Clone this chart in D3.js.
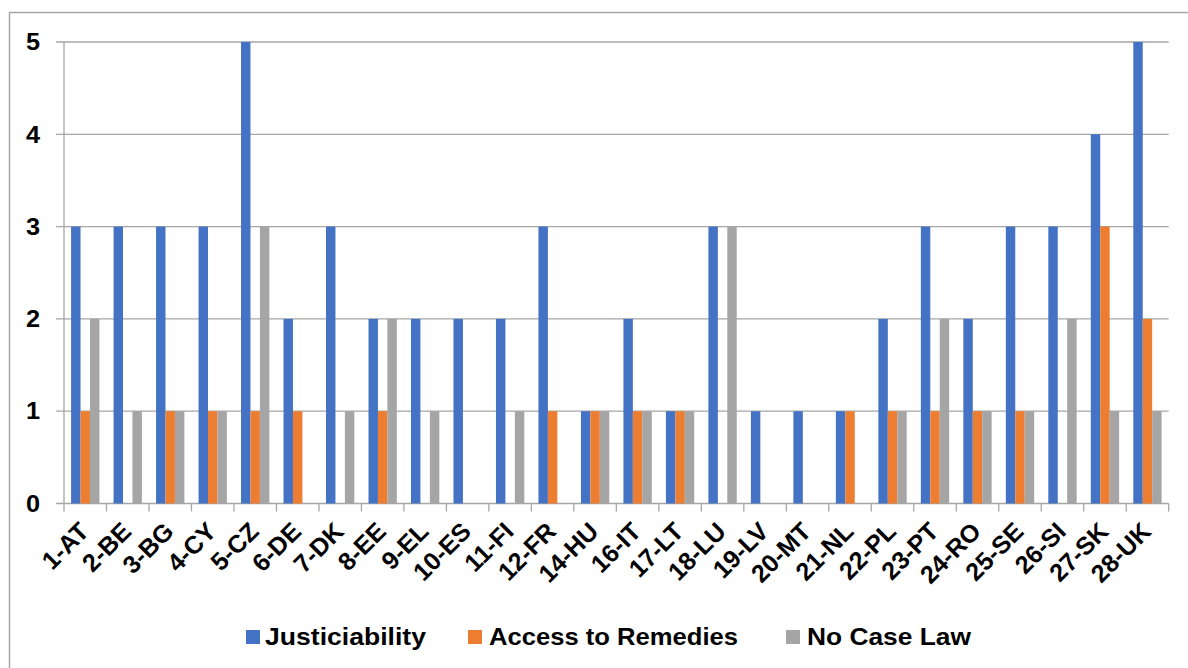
<!DOCTYPE html>
<html>
<head>
<meta charset="utf-8">
<script src="https://cdn.jsdelivr.net/npm/d3@7"></script>
<style>
  html, body { margin: 0; padding: 0; background: #fff; }
  svg { display: block; }
  text { font-family: "Liberation Sans", Arial, sans-serif; font-weight: bold; fill: #000; }
</style>
</head>
<body>
<svg id="chart" width="1188" height="668"></svg>
<script>
// Member states (x categories)
const categories = ["1-AT","2-BE","3-BG","4-CY","5-CZ","6-DE","7-DK","8-EE","9-EL","10-ES","11-FI","12-FR","14-HU","16-IT","17-LT","18-LU","19-LV","20-MT","21-NL","22-PL","23-PT","24-RO","25-SE","26-SI","27-SK","28-UK"];

// Series
const seriesNames = ["Justiciability", "Access to Remedies", "No Case Law"];
const justiciability = [3,3,3,3,5,2,3,2,2,2,2,3,1,2,1,3,1,1,1,2,3,2,3,3,4,5];
const accessToRemedies = [1,0,1,1,1,1,0,1,0,0,0,1,1,1,1,0,0,0,1,1,1,1,1,0,3,2];
const noCaseLaw = [2,1,1,1,3,0,1,2,1,0,1,0,1,1,1,3,0,0,0,1,2,1,1,2,1,1];
const seriesValues = [justiciability, accessToRemedies, noCaseLaw];
const seriesColors = ["#4472C4", "#ED7D31", "#A5A5A5"];

// Axis ticks
const yTicks = [0, 1, 2, 3, 4, 5];

const svg = d3.select("#chart");
const gridColor = "#a6a6a6";

// Outer chart frame (runs off the right and bottom edges)
svg.append("rect")
  .attr("x", 9.5).attr("y", 12.5)
  .attr("width", 1200).attr("height", 700)
  .attr("fill", "#fff")
  .attr("stroke", gridColor).attr("stroke-width", 1.5);

const plot = { left: 64, right: 1168.7, top: 42, bottom: 503.5 };

const x = d3.scaleBand().domain(categories).range([plot.left, plot.right]).paddingInner(0).paddingOuter(0);
const xs = d3.scaleBand().domain(seriesNames).range([0, x.bandwidth()]).paddingInner(0).paddingOuter(0.75);
const y = d3.scaleLinear().domain([0, 5]).range([plot.bottom, plot.top]);

// Horizontal gridlines with left tick stubs
svg.append("g").selectAll("line")
  .data(yTicks)
  .join("line")
  .attr("x1", plot.left - 8).attr("x2", plot.right)
  .attr("y1", d => y(d)).attr("y2", d => y(d))
  .attr("stroke", gridColor).attr("stroke-width", 1.3);

// Vertical axis line
svg.append("line")
  .attr("x1", plot.left).attr("x2", plot.left)
  .attr("y1", plot.top).attr("y2", plot.bottom)
  .attr("stroke", gridColor).attr("stroke-width", 1.3);

// Category boundary tick marks below the axis
const boundaries = categories.map(c => x(c)).concat([plot.right]);
svg.append("g").selectAll("line")
  .data(boundaries)
  .join("line")
  .attr("x1", d => d).attr("x2", d => d)
  .attr("y1", plot.bottom).attr("y2", plot.bottom + 8)
  .attr("stroke", gridColor).attr("stroke-width", 1.3);

// Bars
const rows = categories.map((c, i) => ({ cat: c, vals: seriesNames.map((s, j) => ({ s, j, v: seriesValues[j][i] })) }));
svg.append("g").selectAll("g")
  .data(rows)
  .join("g")
  .attr("transform", d => `translate(${x(d.cat)},0)`)
  .selectAll("rect")
  .data(d => d.vals.filter(e => e.v > 0))
  .join("rect")
  .attr("x", e => xs(e.s))
  .attr("width", xs.bandwidth())
  .attr("y", e => y(e.v))
  .attr("height", e => y(0) - y(e.v))
  .attr("fill", e => seriesColors[e.j]);

// Y tick labels
svg.append("g").selectAll("text")
  .data(yTicks)
  .join("text")
  .attr("transform", d => `translate(40,${y(d)}) scale(1.1,1)`)
  .attr("dy", "0.36em")
  .attr("text-anchor", "end")
  .attr("font-size", 23)
  .text(d => d);

// X tick labels, rotated
svg.append("g").selectAll("text")
  .data(categories)
  .join("text")
  .attr("transform", d => `translate(${x(d) + x.bandwidth() / 2 + 5},533) rotate(-45)`)
  .attr("text-anchor", "end")
  .attr("font-size", 25)
  .text(d => d);

// Legend
const legendItems = [
  { name: seriesNames[0], color: seriesColors[0], sx: 246, tx: 265, w: 161 },
  { name: seriesNames[1], color: seriesColors[1], sx: 468, tx: 489, w: 249 },
  { name: seriesNames[2], color: seriesColors[2], sx: 786, tx: 807, w: 164 }
];
const legend = svg.append("g");
legend.selectAll("rect")
  .data(legendItems)
  .join("rect")
  .attr("x", d => d.sx).attr("y", 630)
  .attr("width", 14).attr("height", 14)
  .attr("fill", d => d.color);
legend.selectAll("text")
  .data(legendItems)
  .join("text")
  .attr("x", d => d.tx).attr("y", 645)
  .attr("font-size", 24)
  .attr("textLength", d => d.w)
  .attr("lengthAdjust", "spacingAndGlyphs")
  .text(d => d.name);
</script>
</body>
</html>
